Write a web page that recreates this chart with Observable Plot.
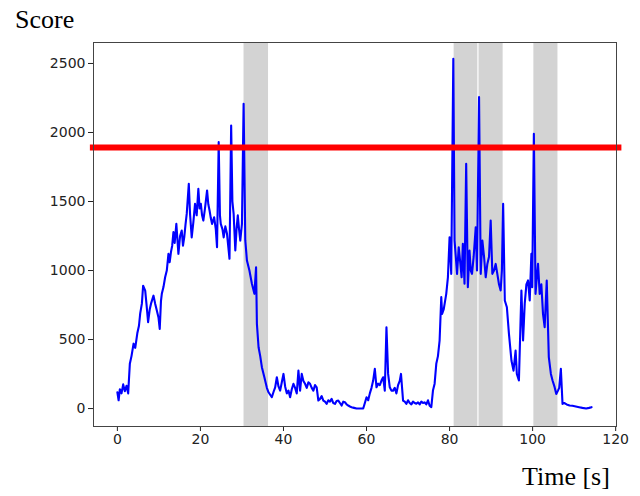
<!DOCTYPE html>
<html>
<head>
<meta charset="utf-8">
<script src="https://cdn.jsdelivr.net/npm/d3@7"></script>
<script src="https://cdn.jsdelivr.net/npm/@observablehq/plot@0.6"></script>
<style>
  html, body { margin: 0; padding: 0; background: #fff; }
  #wrap { position: relative; width: 640px; height: 496px; overflow: hidden; }
  .lbl { position: absolute; font-family: "Liberation Serif", "Times New Roman", serif; font-size: 26px; line-height: 26px; color: #000; white-space: nowrap; }
</style>
</head>
<body>
<div id="wrap">
  <div id="chart"></div>
  <div class="lbl" id="ylab" style="left:15px; top:7px;">Score</div>
  <div class="lbl" id="xlab" style="left:522px; top:464px;">Time [s]</div>
</div>
<script>
// [time (s), score] samples
const samples = [
  [0,118],[0.3,60],[0.6,140],[1.0,110],[1.4,175],[1.8,125],[2.2,165],[2.6,110],[3.0,324],[3.4,380],
  [3.9,470],[4.3,440],[4.8,545],[5.2,600],[5.5,690],[5.9,760],[6.2,890],[6.7,855],[7.0,760],[7.4,626],
  [7.8,720],[8.1,760],[8.7,818],[9.1,760],[9.5,710],[9.9,660],[10.2,577],[10.5,780],[10.7,831],[11.1,880],
  [11.5,951],[11.9,1000],[12.3,1121],[12.6,1060],[12.9,1133],[13.2,1180],[13.5,1278],[13.8,1200],[14.2,1338],[14.7,1121],
  [15.1,1250],[15.5,1290],[15.8,1180],[16.1,1240],[16.4,1330],[16.7,1410],[17.2,1628],[17.5,1410],[17.9,1240],[18.3,1350],
  [18.7,1483],[19.1,1400],[19.5,1592],[19.8,1450],[20.1,1483],[20.4,1400],[20.7,1362],[21.1,1450],[21.6,1580],[21.9,1480],
  [22.2,1435],[22.5,1380],[22.8,1338],[23.3,1386],[23.7,1300],[24.0,1169],[24.4,1930],[24.7,1400],[24.9,1338],[25.3,1300],
  [25.6,1240],[26.0,1320],[26.4,1266],[27.0,1085],[27.4,2050],[27.7,1500],[28.0,1410],[28.4,1145],[28.7,1300],[29.0,1400],
  [29.3,1300],[29.6,1217],[30.0,1338],[30.4,2208],[30.8,1220],[31.2,1072],[31.8,1000],[32.4,904],[33.0,831],[33.4,1024],
  [33.6,614],[34.0,444],[34.4,380],[34.8,300],[35.4,227],[36.0,150],[36.4,118],[37.2,82],[37.6,120],[38.0,154],
  [38.4,227],[38.8,160],[39.2,130],[39.6,190],[40.0,251],[40.4,160],[40.8,110],[41.2,130],[41.6,82],[42.0,140],
  [42.4,179],[42.8,150],[43.2,110],[43.6,275],[44.0,130],[44.4,251],[44.8,200],[45.2,179],[45.6,150],[46.0,190],
  [46.4,179],[46.8,150],[47.2,130],[47.6,170],[48.0,154],[48.4,58],[48.8,70],[49.2,90],[49.6,58],[50.0,50],
  [50.4,34],[50.8,60],[51.2,50],[51.6,70],[52.0,40],[52.4,34],[52.8,55],[53.2,58],[53.6,40],[54.0,22],
  [54.4,50],[54.8,46],[55.2,30],[55.6,22],[56.0,15],[56.4,10],[57.0,5],[57.6,0],[58.4,0],[59.2,0],
  [59.6,40],[60.0,82],[60.4,60],[60.8,110],[61.2,150],[61.6,203],[62.0,288],[62.4,154],[62.8,180],[63.2,170],
  [63.6,203],[64.0,227],[64.4,130],[64.8,589],[65.2,251],[65.6,154],[66.0,130],[66.4,130],[66.8,150],[67.2,110],
  [67.6,170],[68.0,200],[68.3,251],[68.8,58],[69.2,50],[69.6,34],[70.0,60],[70.4,40],[70.8,30],[71.2,50],
  [71.6,40],[72.0,35],[72.4,45],[72.8,30],[73.2,50],[73.6,40],[74.0,45],[74.4,30],[74.8,60],[75.2,20],
  [75.6,10],[76.0,130],[76.4,180],[76.8,324],[77.2,380],[77.6,493],[78.0,807],[78.2,686],[78.6,720],[79.2,831],
  [79.6,951],[80.0,1241],[80.4,976],[80.9,2534],[81.2,1217],[81.5,1100],[81.8,976],[82.2,1169],[82.6,1050],[82.9,951],
  [83.2,1193],[83.6,904],[84.0,1773],[84.4,879],[84.8,1145],[85.1,1000],[85.4,976],[85.8,1100],[86.3,1314],[86.6,1000],
  [87.1,2256],[87.5,976],[87.9,1217],[88.3,1100],[88.7,951],[89.1,1048],[89.5,1100],[89.9,1362],[90.3,976],[90.7,1000],
  [91.1,1048],[91.5,976],[91.9,900],[92.3,855],[92.6,1000],[92.9,1483],[93.3,783],[93.8,734],[94.3,541],[94.9,348],
  [95.4,275],[95.9,420],[96.2,251],[96.7,203],[97.3,855],[97.7,493],[98.1,760],[98.5,900],[98.9,928],[99.3,783],
  [99.7,1121],[99.9,879],[100.3,1990],[100.7,831],[101.0,950],[101.3,1048],[101.7,831],[102.1,900],[102.5,686],[102.9,590],
  [103.4,928],[103.9,372],[104.4,251],[104.8,203],[105.3,155],[105.7,106],[106.1,130],[106.4,150],[106.8,288],[107.2,34],
  [107.6,40],[108.2,30],[108.9,22],[109.6,20],[110.4,15],[111.2,10],[112.0,5],[112.9,0],[113.6,5],[114.2,10]
];
// shaded intervals (s)
const spanStart = [30.5, 81.1, 87.1, 100.3];
const spanEnd   = [36.4, 86.8, 92.9, 106.1];
// threshold score
const threshold = 1891;
// tick values
const xTicks = [0, 20, 40, 60, 80, 100, 120];
const yTicks = [0, 500, 1000, 1500, 2000, 2500];

const series = samples.map(([t, v]) => ({t, v}));
const spans = spanStart.map((s, i) => ({x1: s, x2: spanEnd[i]}));

const chart = Plot.plot({
  width: 640,
  height: 496,
  marginLeft: 93,
  marginRight: 24,
  marginTop: 42,
  marginBottom: 70,
  style: {fontFamily: "'DejaVu Sans', sans-serif", fontSize: "14px", color: "#222", background: "#fff"},
  x: {domain: [-5.75, 120.2], ticks: xTicks, tickFormat: d => String(d), label: null, tickSize: 5, tickPadding: 3},
  y: {domain: [-130, 2652], ticks: yTicks, tickFormat: d => String(d), label: null, tickSize: 5, tickPadding: 3},
  marks: [
    Plot.rectX(spans, {x1: "x1", x2: "x2", y1: -130, y2: 2652, fill: "#d3d3d3"}),
    Plot.line(series, {x: "t", y: "v", stroke: "#0000ff", strokeWidth: 2.1}),
    Plot.ruleY([threshold], {x1: -6.5, x2: 121.5, stroke: "#ff0000", strokeWidth: 6, clip: false}),
    Plot.frame({stroke: "#444", strokeWidth: 1})
  ]
});
document.getElementById("chart").appendChild(chart);
</script>
</body>
</html>
